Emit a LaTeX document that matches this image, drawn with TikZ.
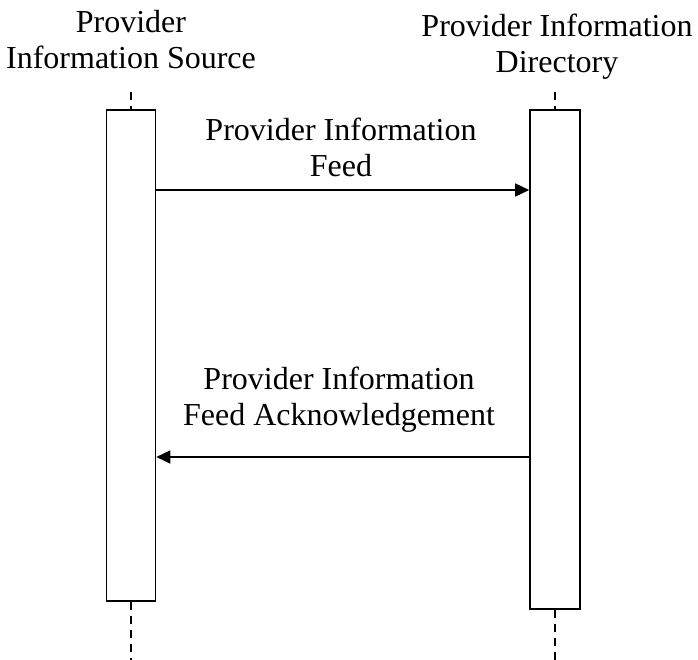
\documentclass[tikz,border=0pt]{standalone}
\usepackage{fontspec}
\setmainfont{Liberation Serif}
\usetikzlibrary{arrows.meta}

\tikzset{
  bar/.style={draw, line width=1.6pt, fill=white, inner sep=0pt},
  life/.style={line width=1.6pt, dash pattern=on 8pt off 6pt},
  msg/.style={line width=1.6pt, -{Triangle[length=14pt,width=13pt]}},
  lbl/.style={align=center, inner sep=0pt, anchor=north, font=\fontsize{32}{36}\selectfont}
}

\begin{document}
\begin{tikzpicture}[x=1pt,y=-1pt]
                \useasboundingbox (0,0) rectangle (698,660);
                % participants
                \node[lbl] (srctitle) at (131,10) {Provider\\Information Source};
                \node[lbl] (dirtitle) at (557,14) {Provider Information\\Directory};
                % activation bars
                \node[bar, minimum width=49pt, minimum height=491pt] (srcbar) at (131,355.5) {};
                \node[bar, minimum width=50pt, minimum height=499pt] (dirbar) at (555,359.5) {};
                % lifelines
                \coordinate (srctop) at (131,92);
                \coordinate (srcend) at (131,660);
                \coordinate (dirtop) at (555,92);
                \coordinate (dirend) at (555,660);
                \draw[life] (srctop) -- (srcbar.north);
                \draw[life] (srcbar.south) -- (srcend);
                \draw[life] (dirtop) -- (dirbar.north);
                \draw[life] (dirbar.south) -- (dirend);
                % messages
                \node[lbl] (feed) at (341,118) {Provider Information\\Feed};
                \node[lbl] (ack) at (339,367) {Provider Information\\Feed Acknowledgement};
                \coordinate (feedy) at (0,190);
                \coordinate (acky) at (0,457);
                \draw[msg] (srcbar.east |- feedy) -- (dirbar.west |- feedy);
                \draw[msg] (dirbar.west |- acky) -- (srcbar.east |- acky);
            \end{tikzpicture}
\end{document}
